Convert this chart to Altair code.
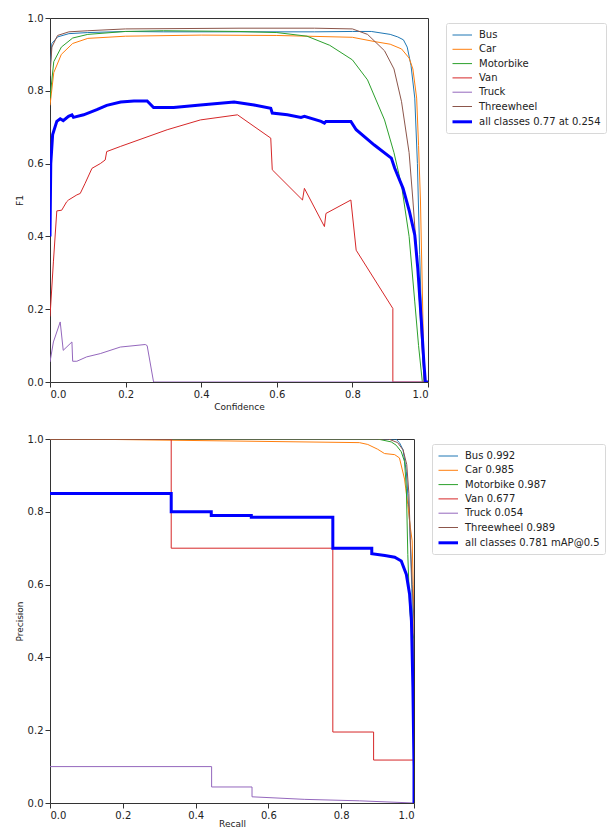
import altair as alt
import pandas as pd

classes = ["Bus", "Car", "Motorbike", "Van", "Truck", "Threewheel"]
f1_labels = classes + ["all classes 0.77 at 0.254"]
pr_labels = ["Bus 0.992", "Car 0.985", "Motorbike 0.987", "Van 0.677",
             "Truck 0.054", "Threewheel 0.989", "all classes 0.781 mAP@0.5"]
colors = ["#1f77b4", "#ff7f0e", "#2ca02c", "#d62728", "#9467bd", "#8c564b", "#0000ff"]
widths = [1, 1, 1, 1, 1, 1, 3]
ticks = [0.0, 0.2, 0.4, 0.6, 0.8, 1.0]

# ---------------- F1 - Confidence ----------------
bus_f1_x = [0, 0.005, 0.02, 0.05, 0.1, 0.2, 0.3, 0.5, 0.7, 0.8, 0.85, 0.9, 0.92, 0.935, 0.945, 0.955, 0.965, 0.972, 0.978, 0.985, 0.99, 1.0]
bus_f1_y = [0.86, 0.93, 0.948, 0.957, 0.96, 0.963, 0.962, 0.962, 0.962, 0.963, 0.963, 0.955, 0.948, 0.94, 0.92, 0.87, 0.78, 0.6, 0.35, 0.1, 0.0, 0.0]
car_f1_x = [0, 0.01, 0.03, 0.06, 0.1, 0.2, 0.4, 0.6, 0.8, 0.86, 0.9, 0.93, 0.95, 0.96, 0.97, 0.975, 0.98, 0.985, 0.99, 1.0]
car_f1_y = [0.76, 0.85, 0.9, 0.93, 0.944, 0.95, 0.953, 0.952, 0.947, 0.935, 0.928, 0.915, 0.89, 0.86, 0.78, 0.65, 0.5, 0.25, 0.0, 0.0]
moto_f1_x = [0, 0.01, 0.03, 0.06, 0.1, 0.2, 0.3, 0.5, 0.6, 0.68, 0.74, 0.8, 0.84, 0.885, 0.91, 0.93, 0.95, 0.965, 0.975, 0.985, 1.0]
moto_f1_y = [0.78, 0.88, 0.92, 0.945, 0.955, 0.963, 0.965, 0.963, 0.96, 0.95, 0.925, 0.885, 0.83, 0.72, 0.63, 0.54, 0.40, 0.22, 0.1, 0.0, 0.0]
van_f1_x = [0, 0.009, 0.018, 0.031, 0.044, 0.049, 0.071, 0.08, 0.093, 0.111, 0.133, 0.146, 0.15, 0.186, 0.31, 0.398, 0.496, 0.584, 0.588, 0.668, 0.673, 0.726, 0.73, 0.796, 0.81, 0.907, 0.907, 1.0]
van_f1_y = [0.18, 0.33, 0.47, 0.472, 0.495, 0.5, 0.514, 0.518, 0.546, 0.587, 0.6, 0.61, 0.633, 0.647, 0.693, 0.72, 0.734, 0.67, 0.583, 0.5, 0.532, 0.427, 0.463, 0.5, 0.362, 0.202, 0.0, 0.0]
truck_f1_x = [0, 0.009, 0.027, 0.035, 0.053, 0.058, 0.06, 0.071, 0.097, 0.133, 0.186, 0.252, 0.257, 0.274, 1.0]
truck_f1_y = [0.055, 0.11, 0.165, 0.087, 0.105, 0.11, 0.057, 0.057, 0.069, 0.078, 0.096, 0.103, 0.1, 0.0, 0.0]
three_f1_x = [0, 0.005, 0.02, 0.05, 0.1, 0.2, 0.5, 0.7, 0.8, 0.84, 0.885, 0.91, 0.93, 0.95, 0.96, 0.973, 0.982, 0.99, 1.0]
three_f1_y = [0.84, 0.92, 0.952, 0.962, 0.965, 0.97, 0.972, 0.972, 0.97, 0.955, 0.91, 0.86, 0.77, 0.63, 0.5, 0.31, 0.13, 0.0, 0.0]
all_f1_x = [0, 0.002, 0.007, 0.018, 0.027, 0.035, 0.049, 0.058, 0.062, 0.089, 0.124, 0.15, 0.187, 0.222, 0.257, 0.274, 0.327, 0.398, 0.487, 0.54, 0.584, 0.588, 0.628, 0.664, 0.673, 0.717, 0.726, 0.73, 0.796, 0.81, 0.858, 0.903, 0.912, 0.934, 0.951, 0.965, 0.973, 0.982, 0.989, 0.993, 1.0]
all_f1_y = [0.40, 0.60, 0.68, 0.716, 0.723, 0.718, 0.73, 0.734, 0.727, 0.734, 0.748, 0.76, 0.769, 0.772, 0.772, 0.754, 0.754, 0.761, 0.769, 0.761, 0.752, 0.739, 0.734, 0.727, 0.73, 0.716, 0.711, 0.716, 0.716, 0.693, 0.651, 0.615, 0.587, 0.532, 0.468, 0.404, 0.312, 0.174, 0.055, 0.0, 0.0]

# ---------------- Precision - Recall ----------------
bus_pr_x = [0, 0.95, 0.96, 0.97, 0.979, 0.988, 0.994, 0.998, 1.0, 1.0]
bus_pr_y = [1.0, 1.0, 0.99, 0.97, 0.91, 0.77, 0.59, 0.4, 0.3, 0.0]
car_pr_x = [0, 0.15, 0.85, 0.873, 0.9, 0.919, 0.947, 0.96, 0.974, 0.983, 0.99, 0.995, 1.0, 1.0]
car_pr_y = [1.0, 0.999, 0.99, 0.985, 0.972, 0.96, 0.957, 0.948, 0.89, 0.82, 0.756, 0.72, 0.5, 0.0]
moto_pr_x = [0, 0.9, 0.9375, 0.951, 0.965, 0.974, 0.979, 0.983, 0.988, 0.993, 1.0, 1.0]
moto_pr_y = [1.0, 1.0, 0.992, 0.983, 0.965, 0.938, 0.865, 0.683, 0.537, 0.48, 0.45, 0.0]
van_pr_x = [0, 0.333, 0.333, 0.777, 0.777, 0.889, 0.889, 1.0, 1.0]
van_pr_y = [1.0, 1.0, 0.70, 0.70, 0.195, 0.195, 0.118, 0.118, 0.0]
truck_pr_x = [0, 0.444, 0.444, 0.555, 0.555, 0.7, 0.85, 1.0]
truck_pr_y = [0.1, 0.1, 0.044, 0.044, 0.017, 0.01, 0.006, 0.0]
three_pr_x = [0, 0.93, 0.955, 0.97, 0.98, 0.986, 0.99, 0.995, 1.0, 1.0]
three_pr_y = [1.0, 1.0, 0.99, 0.97, 0.93, 0.85, 0.72, 0.6, 0.5, 0.0]
all_pr_x = [0, 0.333, 0.333, 0.443, 0.443, 0.553, 0.553, 0.777, 0.777, 0.884, 0.884, 0.92, 0.947, 0.965, 0.979, 0.988, 0.993, 0.997, 1.0, 1.0]
all_pr_y = [0.85, 0.85, 0.80, 0.80, 0.79, 0.79, 0.785, 0.785, 0.70, 0.70, 0.685, 0.68, 0.675, 0.665, 0.628, 0.573, 0.5, 0.318, 0.1, 0.0]

f1_xs = [bus_f1_x, car_f1_x, moto_f1_x, van_f1_x, truck_f1_x, three_f1_x, all_f1_x]
f1_ys = [bus_f1_y, car_f1_y, moto_f1_y, van_f1_y, truck_f1_y, three_f1_y, all_f1_y]
pr_xs = [bus_pr_x, car_pr_x, moto_pr_x, van_pr_x, truck_pr_x, three_pr_x, all_pr_x]
pr_ys = [bus_pr_y, car_pr_y, moto_pr_y, van_pr_y, truck_pr_y, three_pr_y, all_pr_y]


def build(xs_list, ys_list, labels):
    rows = []
    for lab, xs, ys in zip(labels, xs_list, ys_list):
        for i, (x, y) in enumerate(zip(xs, ys)):
            rows.append({"series": lab, "x": x, "y": y, "i": i})
    return pd.DataFrame(rows)


FONT = "DejaVu Sans"


def legend(lx, ly):
    return alt.Legend(
        title=None, orient="none", legendX=lx, legendY=ly,
        symbolType="M-1,0H2", symbolSize=169, rowPadding=2.3,
        labelFont=FONT, labelFontSize=10, labelColor="#222", labelOffset=12,
        padding=5, strokeColor="#d8d8d8", fillColor="white", cornerRadius=2,
        labelLimit=300,
    )


def panel(df, labels, xtitle, ytitle, w, h, lx, ly, xtitle_pad):
    ax = dict(values=ticks, format=".1f", grid=False, domain=False,
              tickSize=5, tickColor="#333", labelPadding=2,
              labelFont=FONT, labelFontSize=10, labelColor="#222",
              titleFont=FONT, titleFontSize=9, titleFontWeight="normal",
              titleColor="#222")
    return alt.Chart(df).mark_line(clip=True).encode(
        x=alt.X("x:Q", scale=alt.Scale(domain=[0, 1], nice=False),
                axis=alt.Axis(title=xtitle, titlePadding=xtitle_pad, **ax)),
        y=alt.Y("y:Q", scale=alt.Scale(domain=[0, 1], nice=False),
                axis=alt.Axis(title=ytitle, titlePadding=3, **ax)),
        color=alt.Color("series:N", scale=alt.Scale(domain=labels, range=colors),
                        legend=legend(lx, ly)),
        strokeWidth=alt.StrokeWidth("series:O", scale=alt.Scale(type="ordinal", domain=labels, range=widths),
                                    legend=legend(lx, ly)),
        order=alt.Order("i:Q"),
    ).properties(width=w, height=h)


top = panel(build(f1_xs, f1_ys, f1_labels), f1_labels, "Confidence", "F1", 378, 364, 396, 5, 3)
bottom = panel(build(pr_xs, pr_ys, pr_labels), pr_labels, "Recall", "Precision", 364, 364, 382, 5, -1)

chart = alt.vconcat(top, bottom, spacing=21).resolve_scale(
    color="independent", strokeWidth="independent"
).configure(
    padding={"left": 6, "top": 4, "right": 0, "bottom": 0},
    background="white",
).configure_view(
    stroke="#333", strokeWidth=1
)

chart.save("out.html", embed_options={"renderer": "svg", "actions": False})
